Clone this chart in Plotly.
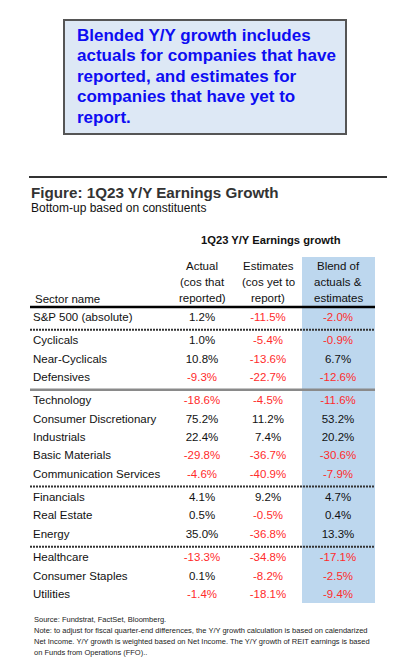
import plotly.graph_objects as go

# ---------------- data ----------------
sectors = ["S&P 500 (absolute)", "Cyclicals", "Near-Cyclicals", "Defensives",
           "Technology", "Consumer Discretionary", "Industrials", "Basic Materials",
           "Communication Services", "Financials", "Real Estate", "Energy",
           "Healthcare", "Consumer Staples", "Utilities"]
groups = [0, 1, 1, 1, 2, 2, 2, 2, 2, 3, 3, 3, 4, 4, 4]
actual = [1.2, 1.0, 10.8, -9.3, -18.6, 75.2, 22.4, -29.8, -4.6, 4.1, 0.5, 35.0, -13.3, 0.1, -1.4]
estimates = [-11.5, -5.4, -13.6, -22.7, -4.5, 11.2, 7.4, -36.7, -40.9, 9.2, -0.5, -36.8, -34.8, -8.2, -18.1]
blend = [-2.0, -0.9, 6.7, -12.6, -11.6, 53.2, 20.2, -30.6, -7.9, 4.7, 0.4, 13.3, -17.1, -2.5, -9.4]

col_headers = [["Actual", "(cos that", "reported)"],
               ["Estimates", "(cos yet to", "report)"],
               ["Blend of", "actuals &", "estimates"]]
callout_lines = ["Blended Y/Y growth includes", "actuals for companies that have",
                 "reported, and estimates for", "companies that have yet to", "report."]
title = "Figure: 1Q23 Y/Y Earnings Growth"
subtitle = "Bottom-up based on constituents"
super_header = "1Q23 Y/Y Earnings growth"
footnotes = ["Source: Fundstrat, FactSet, Bloomberg.",
             "Note: to adjust for fiscal quarter-end differences, the Y/Y growth calculation is based on calendarized",
             "Net Income. Y/Y growth is weighted based on Net Income. The Y/Y growth of REIT earnings is based",
             "on Funds from Operations (FFO).."]

# ---------------- layout constants ----------------
PAGE_W, PAGE_H, BODY = 402, 668, 8
FONT = "Liberation Sans, Arial, sans-serif"
RED = "#ff2b2b"
BLACK = "#111111"
BLUE_COL = "#bdd7ee"
TS = 11.5
col_x = [202, 268, 338]
name_x = 33
row0, row_step, group_gap = 318, 18.3, 5.2
line_x0, line_x1 = 30, 375

row_y = [row0 + row_step * i + group_gap * g for i, g in enumerate(groups)]

fig = go.Figure()

# blue column background
fig.add_shape(type="rect", x0=302, x1=375, y0=257, y1=603,
              fillcolor=BLUE_COL, line=dict(width=0), layer="below")

# callout box
fig.add_shape(type="rect", x0=64, x1=346, y0=20, y1=134,
              fillcolor="#dde8f5", line=dict(color="#555555", width=2), layer="below")
for k, ln in enumerate(callout_lines):
    fig.add_annotation(x=75, y=35 + 20.6 * k, text="<b>" + ln + "</b>", showarrow=False,
                       xanchor="left", yanchor="middle",
                       font=dict(family=FONT, size=17, color="#0d0df2"))

# title rule
fig.add_shape(type="line", x0=29, x1=387, y0=177, y1=177,
              line=dict(color="#333333", width=2))
fig.add_annotation(x=29, y=192, text="<b>" + title + "</b>", showarrow=False,
                   xanchor="left", yanchor="middle",
                   font=dict(family=FONT, size=15.2, color="#333333"))
fig.add_annotation(x=29, y=208, text=subtitle, showarrow=False,
                   xanchor="left", yanchor="middle",
                   font=dict(family=FONT, size=12, color=BLACK))
fig.add_annotation(x=271, y=240, text="<b>" + super_header + "</b>", showarrow=False,
                   xanchor="center", yanchor="middle",
                   font=dict(family=FONT, size=11.2, color=BLACK))

# column headers
for cx, lines in zip(col_x, col_headers):
    for k, ln in enumerate(lines):
        fig.add_annotation(x=cx, y=266 + 16 * k, text=ln, showarrow=False,
                           xanchor="center", yanchor="middle",
                           font=dict(family=FONT, size=TS, color=BLACK))
fig.add_annotation(x=name_x, y=299, text="Sector name", showarrow=False,
                   xanchor="left", yanchor="middle",
                   font=dict(family=FONT, size=TS, color=BLACK))

# header rule
fig.add_shape(type="line", x0=line_x0, x1=line_x1, y0=307, y1=307,
              line=dict(color="#000000", width=2.5))

# group separators
sep_styles = {1: ("#333333", 2, "2px,1px"), 2: ("#8a8a8a", 2.5, "solid"),
              3: ("#333333", 2, "2px,1px"), 4: ("#333333", 2, "2px,1px")}
for i in range(1, len(groups)):
    if groups[i] != groups[i - 1]:
        ys = (row_y[i] + row_y[i - 1]) / 2
        c, w, d = sep_styles[groups[i]]
        fig.add_shape(type="line", x0=line_x0, x1=line_x1, y0=ys, y1=ys,
                      line=dict(color=c, width=w, dash=d))

# sector names
fig.add_trace(go.Scatter(x=[name_x] * len(sectors), y=row_y, mode="text",
                         text=sectors, textposition="middle right",
                         textfont=dict(family=FONT, size=TS, color=BLACK),
                         hoverinfo="skip", showlegend=False))

# value columns
for cx, vals in zip(col_x, [actual, estimates, blend]):
    fig.add_trace(go.Scatter(x=[cx] * len(vals), y=row_y, mode="text",
                             text=[f"{v:.1f}%" for v in vals],
                             textposition="middle center",
                             textfont=dict(family=FONT, size=TS,
                                           color=[RED if v < 0 else BLACK for v in vals]),
                             hoverinfo="skip", showlegend=False))

# footnotes
for k, ln in enumerate(footnotes):
    fig.add_annotation(x=32, y=619 + 11 * k, text=ln, showarrow=False,
                       xanchor="left", yanchor="middle",
                       font=dict(family=FONT, size=7.5, color="#222222"))

# the page body has an 8px margin: axes are set in page pixel units
fig.update_layout(width=PAGE_W - BODY, height=PAGE_H - BODY,
                  margin=dict(l=0, r=0, t=0, b=0),
                  paper_bgcolor="white", plot_bgcolor="white",
                  xaxis=dict(range=[BODY, PAGE_W], visible=False, fixedrange=True),
                  yaxis=dict(range=[PAGE_H, BODY], visible=False, fixedrange=True))

fig.write_html("out.html", config={"displayModeBar": False})
